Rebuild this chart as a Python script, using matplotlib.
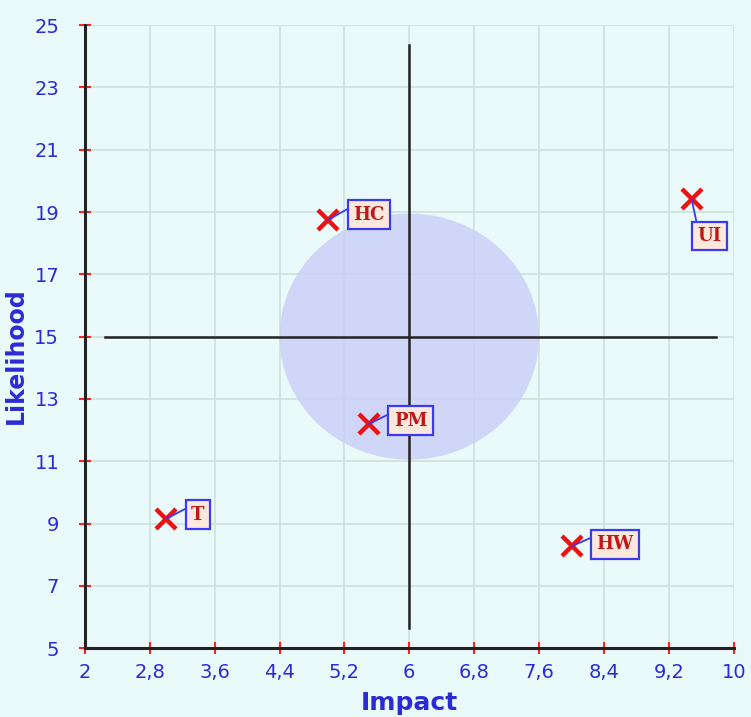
import matplotlib
matplotlib.use("Agg")
import matplotlib.pyplot as plt
from matplotlib.patches import Ellipse
import numpy as np

# ---- data ----
labels = ["HC", "UI", "PM", "T", "HW"]
impact = [5.0, 9.48, 5.5, 3.0, 8.0]
likelihood = [18.75, 19.42, 12.2, 9.15, 8.27]
x_ticks = [2, 2.8, 3.6, 4.4, 5.2, 6, 6.8, 7.6, 8.4, 9.2, 10]
x_tick_labels = ["2", "2,8", "3,6", "4,4", "5,2", "6", "6,8", "7,6", "8,4", "9,2", "10"]
y_ticks = [5, 7, 9, 11, 13, 15, 17, 19, 21, 23, 25]
center_x, center_y = 6.0, 15.0
vline_y = (5.65, 24.35)
hline_x = (2.25, 9.78)
circle_w, circle_h = 3.2, 7.9

# label offsets in pixels (dx, dy) and alignment
label_offsets = {"HC": (25, 5, "left", "center"),
                 "UI": (6, -28, "left", "top"),
                 "PM": (25, 3, "left", "center"),
                 "T": (25, 4, "left", "center"),
                 "HW": (25, 2, "left", "center")}

bg = "#eafafa"
blue = "#2b2bd6"

fig = plt.figure(figsize=(7.51, 7.17), dpi=100, facecolor=bg)
ax = fig.add_axes([0.113, 0.096, 0.864, 0.869])
ax.set_facecolor(bg)
ax.set_xlim(2, 10)
ax.set_ylim(5, 25)

ax.set_xticks(x_ticks)
ax.set_xticklabels(x_tick_labels)
ax.set_yticks(y_ticks)
ax.grid(True, color="#cde3dc", linewidth=1.2, zorder=0)
ax.set_axisbelow(True)

for s in ["top", "right"]:
    ax.spines[s].set_visible(False)
for s in ["left", "bottom"]:
    ax.spines[s].set_color("#222222")
    ax.spines[s].set_linewidth(2.2)

ax.tick_params(axis="both", direction="inout", length=9, width=1.5, color="#ff2020",
               labelcolor=blue, labelsize=14)
ax.tick_params(axis="y", pad=14)
ax.tick_params(axis="x", pad=6)

ax.set_xlabel("Impact", color=blue, fontsize=18, fontweight="bold", labelpad=7)
ax.set_ylabel("Likelihood", color=blue, fontsize=17, fontweight="bold")
ax.yaxis.set_label_coords(-0.088, 0.47)

# circle zone
ell = Ellipse((center_x, center_y), circle_w, circle_h, facecolor="#ccd2f7",
              edgecolor="none", alpha=0.9, zorder=1)
ax.add_patch(ell)

# crosshair
ax.plot([center_x, center_x], list(vline_y), color="#222222", linewidth=1.8, zorder=2)
ax.plot(list(hline_x), [center_y, center_y], color="#222222", linewidth=1.8, zorder=2)

# points
ax.plot(impact, likelihood, linestyle="none", marker="x", color="#ee1111",
        markersize=15, markeredgewidth=3.2, zorder=4)

for lab, x, y in zip(labels, impact, likelihood):
    dx, dy, ha, va = label_offsets[lab]
    ax.annotate(lab, (x, y), xytext=(dx, dy), textcoords="offset pixels",
                ha=ha, va=va, fontsize=13, fontweight="bold",
                family=["DejaVu Serif"], color="#c01818",
                bbox=dict(boxstyle="square,pad=0.3", facecolor="#fde8dc",
                          edgecolor="#3a3af0", linewidth=1.6),
                arrowprops=dict(arrowstyle="-", color="#3a3af0", linewidth=1.3,
                                shrinkA=0, shrinkB=0, relpos=(0, 1)),
                zorder=5)

fig.savefig("out.png", dpi=100, facecolor=bg)
